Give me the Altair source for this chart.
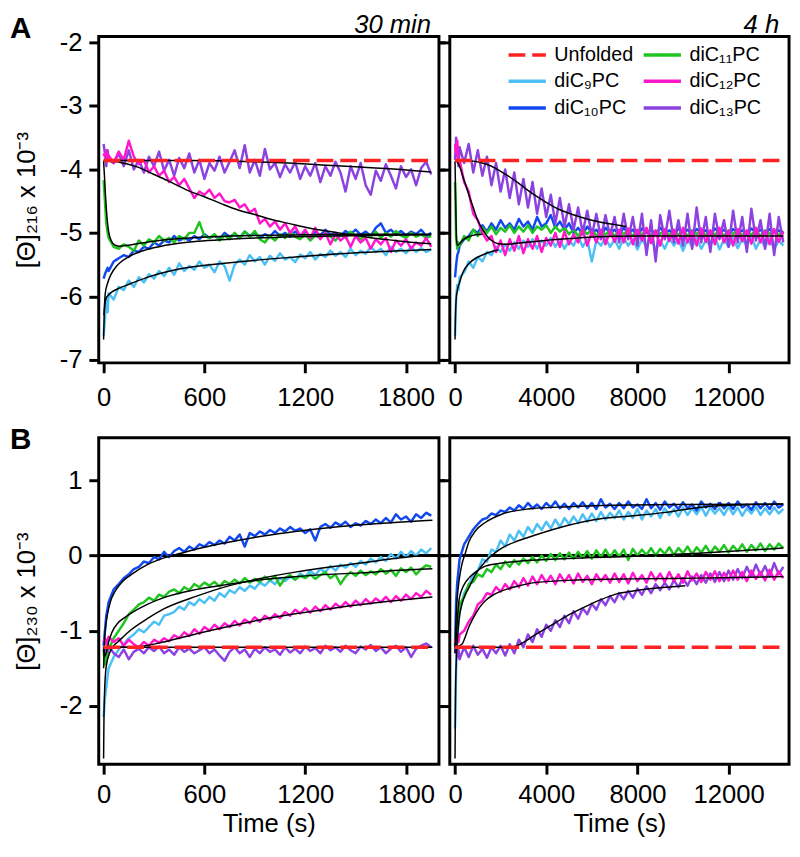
import altair as alt
import pandas as pd

FONT = "Liberation Sans"

# ---------------- sample times ----------------
T_L = [0, 8, 16, 24] + list(range(30, 1951, 30))          # 30 min runs (s)
T_R = [0, 50, 100, 150] + list(range(200, 14401, 200))    # 4 h runs (s)

# ---------------- Panel A, 30 min  ([Θ]216 x 10^-3) ----------------
a_l_c9 = [-6.62, -6.35, -6.02, -6.25,
          -5.95, -6.05, -5.85, -5.9, -5.75, -5.85, -5.7, -5.78, -5.65, -5.72,
          -5.6, -5.68, -5.55, -5.66, -5.48, -5.6, -5.52, -5.58, -5.45, -5.55,
          -5.5, -5.62, -5.45, -5.52, -5.75, -5.5, -5.42, -5.5, -5.35, -5.45,
          -5.38, -5.5, -5.36, -5.44, -5.32, -5.42, -5.38, -5.46, -5.34, -5.4,
          -5.3, -5.42, -5.33, -5.38, -5.28, -5.36, -5.3, -5.38, -5.25, -5.35,
          -5.28, -5.33, -5.22, -5.3, -5.25, -5.35, -5.22, -5.3, -5.25, -5.32,
          -5.22, -5.3, -5.24, -5.3, -5.26]
a_l_c10 = [-5.72, -5.65, -5.6, -5.55,
           -5.6, -5.45, -5.4, -5.35, -5.38, -5.28, -5.3, -5.22, -5.25, -5.15,
           -5.2, -5.12, -5.15, -5.05, -5.12, -5.08, -5.12, -5.05, -5.1, -5.02,
           -5.08, -5.04, -5.1, -5.0, -5.06, -5.02, -5.08, -4.98, -5.05, -5.0,
           -5.08, -5.02, -5.06, -4.97, -5.05, -5.0, -5.06, -4.98, -5.04, -5.0,
           -5.07, -4.98, -5.04, -4.95, -5.03, -5.0, -5.05, -4.97, -5.02, -4.95,
           -5.03, -4.98, -5.05, -4.92, -4.85, -5.0, -4.95, -5.03, -4.97, -5.04,
           -4.98, -5.02, -4.95, -5.05, -5.0]
a_l_c11 = [-4.17, -4.5, -4.85, -5.0,
           -5.08, -5.22, -5.25, -5.18, -5.22, -5.28, -5.12, -5.2, -5.1, -5.15,
           -5.05, -5.12, -5.08, -5.15, -5.05, -5.1, -5.0, -5.0, -4.83, -5.05,
           -5.08, -5.02, -5.12, -5.04, -5.1, -5.0, -5.08, -4.98, -5.06, -4.97,
           -5.1, -5.15, -5.05, -5.12, -5.02, -5.08, -4.98, -5.06, -5.1, -5.02,
           -5.12, -5.04, -5.08, -5.0, -5.06, -5.12, -5.02, -5.08, -4.98, -5.05,
           -5.1, -5.02, -5.06, -4.98, -5.08, -5.0, -5.06, -4.97, -5.04, -5.08,
           -5.0, -5.06, -5.02, -5.08, -5.05]
a_l_c12 = [-3.75, -3.8, -3.7, -3.85,
           -3.78, -3.9, -3.72, -3.85, -3.55, -3.8, -3.92, -3.85, -4.05, -3.95,
           -4.1, -4.02, -4.2, -4.12, -4.25, -4.15, -4.3, -4.45, -4.35, -4.4,
           -4.32, -4.45, -4.38, -4.5, -4.52, -4.48, -4.6, -4.55, -4.68, -4.62,
           -4.85, -4.78, -4.9, -4.82, -4.95, -4.85, -5.0, -4.9, -5.05, -4.95,
           -5.08, -4.92, -5.1, -5.0, -5.18, -5.02, -5.12, -5.05, -5.22, -5.05,
           -5.15, -5.08, -5.25, -5.1, -5.18, -5.08, -5.3, -5.12, -5.2, -5.1,
           -5.25, -5.15, -5.2, -5.08, -5.22]
a_l_c13 = [-3.6, -3.75, -3.95, -3.7,
           -3.85, -3.9, -3.75, -3.95, -3.7, -4.0, -3.85, -4.05, -3.8, -3.95,
           -3.72, -4.02, -3.85, -4.1, -3.82, -3.98, -3.75, -4.05, -3.85, -4.15,
           -3.9, -4.02, -3.8, -4.05, -3.88, -3.7, -3.98, -3.62, -4.05, -3.85,
           -4.1, -3.68, -4.0, -3.9, -4.12, -3.92, -4.05, -3.88, -4.15, -3.95,
           -4.1, -3.9, -4.2, -3.95, -4.1, -3.88, -4.05, -4.35, -3.95, -4.15,
           -3.9, -4.25, -4.4, -4.02, -4.18, -3.92, -4.1, -4.3, -3.95, -4.12,
           -4.0, -4.25, -3.98, -3.88, -4.08]

# ---------------- Panel A, 4 h ----------------
a_r_c9 = [-6.62, -6.0, -5.82, -5.9,
          -5.7, -5.62, -5.45, -5.55, -5.38, -5.45, -5.3, -5.35, -5.22, -5.3,
          -5.18, -5.28, -5.15, -5.25, -5.12, -5.22, -5.1, -5.25, -5.12, -5.2,
          -5.08, -5.22, -5.1, -5.25, -5.12, -5.2, -5.05, -5.22, -5.1, -5.45,
          -5.12, -5.2, -5.08, -5.22, -5.1, -5.25, -5.08, -5.2, -5.1, -5.26,
          -5.1, -5.22, -5.05, -5.28, -5.12, -5.25, -5.08, -5.2, -5.1, -5.28,
          -5.1, -5.22, -5.08, -5.25, -5.12, -5.2, -5.06, -5.26, -5.1, -5.22,
          -5.08, -5.24, -5.1, -5.2, -5.05, -5.25, -5.1, -5.22, -5.08, -5.26,
          -5.12, -5.2]
a_r_c10 = [-5.7, -5.5, -5.35, -5.3,
           -5.2, -5.1, -5.05, -4.95, -5.0, -4.88, -4.98, -4.85, -4.95, -4.8,
           -4.92, -4.85, -4.95, -4.78, -4.9, -4.82, -4.95, -4.75, -4.9, -4.85,
           -4.72, -4.92, -4.82, -4.95, -4.85, -5.0, -4.92, -5.02, -4.9, -5.0,
           -4.95, -5.05, -4.92, -5.0, -4.95, -5.03, -4.92, -5.0, -4.95, -5.05,
           -4.93, -5.0, -4.95, -5.02, -4.92, -5.0, -4.96, -5.04, -4.93, -5.0,
           -4.95, -5.03, -4.94, -5.0, -4.96, -5.04, -4.93, -5.0, -4.95, -5.02,
           -4.94, -5.0, -4.96, -5.03, -4.93, -5.0, -4.95, -5.02, -4.94, -5.0,
           -4.96, -5.02]
a_r_c11 = [-4.2, -5.1, -5.25, -5.15,
           -5.2, -5.05, -5.12, -4.95, -5.05, -4.92, -5.0, -4.9, -5.02, -4.92,
           -4.98, -4.88, -5.0, -4.9, -4.98, -4.88, -5.0, -4.9, -4.95, -4.88,
           -5.0, -4.9, -4.98, -4.92, -5.02, -4.95, -5.05, -4.95, -5.02, -4.94,
           -5.05, -4.96, -5.03, -4.95, -5.05, -4.97, -5.02, -4.95, -5.05, -4.96,
           -5.03, -4.95, -5.05, -4.97, -5.02, -4.95, -5.04, -4.97, -5.03, -4.95,
           -5.05, -4.96, -5.02, -4.95, -5.04, -4.97, -5.03, -4.95, -5.05, -4.96,
           -5.02, -4.95, -5.04, -4.97, -5.03, -4.95, -5.05, -4.96, -5.02, -4.95,
           -5.04, -4.97]
a_r_c12 = [-3.6, -3.75, -3.55, -3.9,
           -3.85, -4.2, -4.35, -4.7, -4.8, -5.0, -5.12, -5.05, -5.3, -5.12,
           -5.35, -5.1, -5.28, -5.05, -5.32, -5.1, -5.25, -5.05, -5.3, -5.08,
           -5.2, -5.0, -5.22, -4.98, -5.18, -5.02, -5.15, -4.95, -5.2, -4.98,
           -5.15, -4.95, -5.18, -4.97, -5.14, -4.95, -5.15, -4.93, -5.18, -4.95,
           -5.12, -4.92, -5.16, -4.96, -5.2, -4.94, -5.13, -4.95, -5.17, -4.92,
           -5.15, -4.97, -5.2, -4.93, -5.14, -4.96, -5.18, -4.92, -5.15, -4.97,
           -5.2, -4.94, -5.13, -4.96, -5.17, -4.92, -5.15, -4.97, -5.18, -4.94,
           -5.14, -4.98]
a_r_c13 = [-3.85, -3.5, -3.7, -3.95,
           -3.65, -3.9, -3.6, -4.05, -3.7, -4.1, -3.8, -4.25, -3.9, -4.35,
           -4.0, -4.45, -4.05, -4.55, -4.15, -4.6, -4.2, -4.7, -4.3, -4.75,
           -4.4, -4.85, -4.45, -4.9, -4.55, -4.95, -4.6, -5.0, -4.65, -5.05,
           -4.7, -5.1, -4.72, -5.05, -4.75, -5.15, -4.7, -5.1, -4.75, -5.2,
           -4.7, -5.35, -4.8, -5.45, -4.72, -5.1, -4.65, -5.15, -4.8, -5.2,
           -4.7, -5.25, -4.6, -5.15, -4.75, -5.3, -4.7, -5.1, -4.8, -5.22,
           -4.65, -5.15, -4.75, -5.3, -4.62, -5.12, -4.8, -5.25, -4.7, -5.35,
           -4.75, -5.15]

# ---------------- Panel B, 30 min  ([Θ]230 x 10^-3) ----------------
b_l_c9 = [-2.15, -1.9, -1.75, -1.6,
          -1.5, -1.35, -1.25, -1.18, -1.1, -1.05, -0.98, -1.02, -0.95, -0.88,
          -0.92, -0.8, -0.78, -0.75, -0.68, -0.72, -0.62, -0.66, -0.58, -0.63,
          -0.55, -0.6, -0.5, -0.55, -0.46, -0.5, -0.42, -0.47, -0.4, -0.44,
          -0.36, -0.4, -0.33, -0.38, -0.3, -0.34, -0.28, -0.32, -0.24, -0.28,
          -0.2, -0.26, -0.18, -0.22, -0.14, -0.2, -0.12, -0.16, -0.1, -0.15,
          -0.07, -0.12, -0.04, -0.09, -0.02, -0.07, 0.02, -0.04, 0.05, -0.02,
          0.06, 0.0, 0.08, 0.03, 0.1]
b_l_c10 = [-1.2, -1.0, -0.8, -0.7,
           -0.62, -0.45, -0.38, -0.3, -0.25, -0.18, -0.15, -0.08, -0.1, -0.02,
           -0.05, 0.05, -0.02, 0.06, 0.1, 0.05, 0.12, 0.08, 0.15, 0.12,
           0.18, 0.14, 0.2, 0.16, 0.25, 0.2, 0.28, 0.12, 0.3, 0.26,
           0.32, 0.28, 0.34, 0.3, 0.36, 0.32, 0.38, 0.33, 0.36, 0.3,
           0.35, 0.2, 0.38, 0.42, 0.37, 0.44, 0.4, 0.45, 0.38, 0.43,
           0.4, 0.46, 0.42, 0.48, 0.43, 0.5, 0.44, 0.55, 0.48, 0.52,
           0.45, 0.55, 0.5, 0.57, 0.53]
b_l_c11 = [-1.25, -1.45, -1.4, -1.3,
           -1.25, -1.1, -1.0, -0.9, -0.78, -0.72, -0.65, -0.62, -0.56, -0.6,
           -0.52, -0.55, -0.48, -0.45, -0.5, -0.42, -0.46, -0.38, -0.42, -0.36,
           -0.4, -0.35, -0.41, -0.34, -0.38, -0.32, -0.37, -0.3, -0.36, -0.31,
           -0.35, -0.28, -0.33, -0.27, -0.4, -0.3, -0.26, -0.32, -0.27, -0.3,
           -0.25, -0.31, -0.26, -0.22, -0.3, -0.25, -0.38, -0.28, -0.22, -0.27,
           -0.2, -0.26, -0.21, -0.25, -0.18, -0.24, -0.19, -0.27, -0.17, -0.22,
           -0.16, -0.25, -0.18, -0.13, -0.15]
b_l_c12 = [-1.15, -1.1, -1.18, -1.12,
           -1.08, -1.15, -1.1, -1.2, -1.12, -1.18, -1.22, -1.15, -1.2, -1.12,
           -1.16, -1.1, -1.14, -1.06, -1.1, -1.02, -1.07, -0.98, -1.04, -0.95,
           -1.0, -0.92, -0.98, -0.9, -0.95, -0.87, -0.93, -0.85, -0.9, -0.82,
           -0.88, -0.8, -0.85, -0.78, -0.83, -0.75, -0.8, -0.72, -0.77, -0.7,
           -0.76, -0.68, -0.74, -0.66, -0.72, -0.64, -0.69, -0.62, -0.68, -0.6,
           -0.66, -0.58, -0.64, -0.57, -0.62, -0.55, -0.62, -0.54, -0.6, -0.52,
           -0.58, -0.5, -0.55, -0.47, -0.52]
b_l_c13 = [-1.25, -1.3, -1.22, -1.28,
           -1.2, -1.3, -1.35, -1.25, -1.38, -1.28, -1.24, -1.3, -1.22, -1.27,
           -1.21, -1.3, -1.25, -1.32, -1.22, -1.28, -1.24, -1.3, -1.26, -1.22,
           -1.3, -1.25, -1.33, -1.4, -1.28, -1.22, -1.3, -1.25, -1.35, -1.24,
           -1.3, -1.22, -1.28, -1.25, -1.32, -1.22, -1.29, -1.24, -1.3, -1.21,
           -1.27, -1.23, -1.3, -1.2, -1.26, -1.22, -1.28, -1.2, -1.26, -1.3,
           -1.21, -1.25, -1.19, -1.27, -1.22, -1.3, -1.24, -1.2, -1.28, -1.22,
           -1.35, -1.24, -1.2, -1.17, -1.22]

# ---------------- Panel B, 4 h ----------------
b_r_c9 = [-2.3, -1.5, -1.1, -0.9,
          -0.75, -0.5, -0.4, -0.25, -0.2, -0.05, -0.08, 0.08, 0.05, 0.2,
          0.12, 0.28, 0.2, 0.33, 0.25, 0.38, 0.3, 0.42, 0.34, 0.45,
          0.36, 0.48, 0.38, 0.5, 0.42, 0.52, 0.43, 0.55, 0.45, 0.56,
          0.46, 0.58, 0.48, 0.57, 0.5, 0.6, 0.48, 0.58, 0.5, 0.62,
          0.48, 0.6, 0.52, 0.62, 0.5, 0.63, 0.54, 0.62, 0.52, 0.64,
          0.54, 0.63, 0.55, 0.65, 0.53, 0.64, 0.56, 0.63, 0.54, 0.65,
          0.55, 0.64, 0.53, 0.63, 0.56, 0.65, 0.54, 0.63, 0.55, 0.64,
          0.56, 0.62]
b_r_c10 = [-1.2, -0.6, -0.35, -0.2,
           -0.05, 0.15, 0.25, 0.35, 0.42, 0.48, 0.5, 0.56, 0.54, 0.6,
           0.58, 0.64, 0.6, 0.67, 0.62, 0.7, 0.63, 0.68, 0.62, 0.7,
           0.64, 0.72, 0.63, 0.69, 0.62, 0.7, 0.64, 0.71, 0.63, 0.7,
           0.62, 0.75, 0.64, 0.69, 0.62, 0.7, 0.63, 0.72, 0.64, 0.68,
           0.62, 0.75, 0.63, 0.7, 0.61, 0.72, 0.64, 0.69, 0.62, 0.71,
           0.63, 0.68, 0.6, 0.72, 0.64, 0.69, 0.62, 0.71, 0.63, 0.7,
           0.62, 0.72, 0.64, 0.68, 0.61, 0.71, 0.63, 0.7, 0.62, 0.72,
           0.64, 0.68]
b_r_c11 = [-1.2, -1.0, -0.85, -0.75,
           -0.65, -0.55, -0.38, -0.35, -0.25, -0.28, -0.18, -0.22, -0.12, -0.18,
           -0.08, -0.15, -0.06, -0.12, -0.04, -0.1, -0.02, -0.09, 0.0, -0.07,
           0.02, -0.06, 0.03, -0.05, 0.04, -0.04, 0.05, -0.03, 0.06, -0.04,
           0.07, -0.02, 0.08, -0.02, 0.07, -0.01, 0.08, -0.06, 0.09, 0.0,
           0.08, 0.01, 0.1, 0.0, 0.09, 0.02, 0.11, 0.01, 0.1, 0.03,
           0.12, 0.02, 0.11, 0.04, 0.13, 0.03, 0.12, 0.05, 0.14, 0.04,
           0.13, 0.06, 0.15, 0.05, 0.14, 0.07, 0.16, 0.06, 0.15, 0.08,
           0.16, 0.1]
b_r_c12 = [-1.1, -1.2, -1.08, -1.15,
           -1.05, -1.0, -0.88, -0.8, -0.65, -0.6, -0.5, -0.52, -0.42, -0.48,
           -0.38, -0.45, -0.34, -0.42, -0.3, -0.4, -0.28, -0.38, -0.26, -0.36,
           -0.27, -0.38, -0.25, -0.35, -0.26, -0.37, -0.24, -0.35, -0.27, -0.38,
           -0.25, -0.34, -0.26, -0.36, -0.24, -0.35, -0.25, -0.37, -0.23, -0.34,
           -0.26, -0.36, -0.22, -0.33, -0.24, -0.35, -0.22, -0.34, -0.25, -0.36,
           -0.21, -0.33, -0.24, -0.35, -0.22, -0.32, -0.21, -0.34, -0.23, -0.33,
           -0.2, -0.32, -0.22, -0.34, -0.2, -0.31, -0.22, -0.33, -0.19, -0.32,
           -0.21, -0.3]
b_r_c13 = [-1.3, -1.2, -1.35, -1.25,
           -1.38, -1.22, -1.35, -1.2, -1.32, -1.24, -1.36, -1.22, -1.3, -1.2,
           -1.33, -1.18, -1.3, -1.12, -1.22, -1.05, -1.15, -0.98, -1.08, -0.92,
           -1.0, -0.86, -0.95, -0.8, -0.9, -0.74, -0.84, -0.7, -0.78, -0.64,
           -0.72, -0.58, -0.66, -0.54, -0.62, -0.5, -0.58, -0.47, -0.56, -0.44,
           -0.52, -0.41, -0.5, -0.38, -0.46, -0.36, -0.45, -0.33, -0.42, -0.3,
           -0.4, -0.28, -0.38, -0.26, -0.36, -0.24, -0.35, -0.22, -0.34, -0.2,
           -0.32, -0.18, -0.3, -0.15, -0.28, -0.12, -0.26, -0.14, -0.28, -0.1,
           -0.25, -0.15]

# ---------------- fitted curves (black) ----------------
fa_l_c9_t = [0, 3, 8, 15, 25, 50, 85, 160, 260, 450, 750, 1140, 1530, 1950]
fa_l_c9_v = [-6.68, -6.35, -6.12, -6.03, -5.99, -5.93, -5.88, -5.8, -5.7, -5.57, -5.47, -5.38, -5.31, -5.26]
fa_l_c10_t = [2, 10, 25, 45, 85, 160, 260, 360, 560, 750, 1140, 1530, 1950]
fa_l_c10_v = [-6.3, -5.95, -5.78, -5.65, -5.5, -5.36, -5.26, -5.2, -5.13, -5.1, -5.06, -5.04, -5.03]
fa_l_c11_t = [0, 5, 12, 20, 30, 45, 65, 90, 130, 200, 300, 450, 650, 900, 1200, 1500, 1950]
fa_l_c11_v = [-3.87, -4.1, -4.45, -4.75, -4.98, -5.12, -5.19, -5.21, -5.2, -5.17, -5.13, -5.09, -5.06, -5.04, -5.03, -5.02, -5.02]
fa_l_c12_t = [0, 100, 200, 300, 400, 500, 600, 700, 800, 900, 1000, 1100, 1200, 1300, 1400, 1500, 1600, 1700, 1800, 1950]
fa_l_c12_v = [-3.87, -3.89, -3.96, -4.08, -4.2, -4.33, -4.43, -4.54, -4.64, -4.71, -4.79, -4.85, -4.91, -4.96, -5.0, -5.04, -5.08, -5.11, -5.14, -5.17]
fa_l_c13_t = [0, 500, 900, 1100, 1300, 1500, 1700, 1950]
fa_l_c13_v = [-3.86, -3.86, -3.88, -3.9, -3.93, -3.96, -3.99, -4.04]

fa_r_c9_t = [0, 20, 50, 90, 200, 350, 650, 950, 1250, 1550, 1900]
fa_r_c9_v = [-6.68, -6.3, -6.05, -5.93, -5.78, -5.62, -5.47, -5.39, -5.34, -5.3, -5.27]
fa_r_c11_t = [0, 30, 60, 100, 200, 350, 600, 900, 1200]
fa_r_c11_v = [-3.87, -4.5, -5.05, -5.2, -5.17, -5.11, -5.06, -5.03, -5.02]
fa_r_c12_t = [0, 60, 200, 350, 500, 650, 800, 950, 1100, 1250, 1400, 1600, 1900, 2300, 2800, 3400, 4200, 5000, 6200, 8000, 10000, 12000, 14400]
fa_r_c12_v = [-3.86, -3.87, -3.95, -4.12, -4.28, -4.45, -4.6, -4.76, -4.88, -4.97, -5.05, -5.12, -5.17, -5.18, -5.16, -5.14, -5.11, -5.09, -5.06, -5.05, -5.05, -5.05, -5.05]
fa_r_c13_t = [0, 400, 800, 1200, 1600, 2000, 2400, 2800, 3200, 3600, 4000, 4500, 5000, 5500, 6000, 6500, 7000, 7500]
fa_r_c13_v = [-3.86, -3.86, -3.87, -3.9, -3.95, -4.03, -4.12, -4.22, -4.33, -4.43, -4.52, -4.62, -4.69, -4.75, -4.8, -4.84, -4.87, -4.9]

fb_l_c9_t = [0, 2, 6, 12, 20, 35, 60, 84, 162, 260, 358, 554, 749, 945, 1141, 1336, 1532, 1728, 1957]
fb_l_c9_v = [-2.7, -2.2, -1.8, -1.55, -1.42, -1.3, -1.2, -1.15, -0.99, -0.84, -0.71, -0.54, -0.4, -0.3, -0.22, -0.155, -0.1, -0.04, 0.01]
fb_l_c10_t = [0, 5, 12, 20, 40, 70, 110, 160, 260, 360, 460, 560, 750, 950, 1140, 1340, 1530, 1730, 1957]
fb_l_c10_v = [-1.5, -1.15, -0.95, -0.82, -0.62, -0.47, -0.35, -0.26, -0.12, -0.03, 0.03, 0.09, 0.18, 0.26, 0.32, 0.37, 0.41, 0.44, 0.47]
fb_l_c11_t = [0, 5, 15, 30, 50, 84, 123, 162, 260, 358, 554, 749, 945, 1141, 1336, 1532, 1728, 1957]
fb_l_c11_v = [-1.22, -1.35, -1.3, -1.15, -1.02, -0.9, -0.83, -0.77, -0.65, -0.56, -0.45, -0.38, -0.32, -0.28, -0.25, -0.23, -0.2, -0.175]
fb_l_c12_t = [0, 150, 250, 358, 554, 749, 945, 1141, 1336, 1532, 1728, 1957]
fb_l_c12_v = [-1.22, -1.22, -1.2, -1.15, -1.04, -0.94, -0.85, -0.775, -0.71, -0.65, -0.6, -0.55]
fb_l_c13_t = [0, 1957]
fb_l_c13_v = [-1.22, -1.22]

fb_r_c9_t = [0, 20, 60, 120, 173, 300, 450, 605, 900, 1328, 2050, 2800, 3490, 4930, 6373, 7813, 9253, 10693, 12000, 14400]
fb_r_c9_v = [-2.7, -1.9, -1.35, -1.05, -0.86, -0.65, -0.52, -0.43, -0.25, -0.08, 0.1, 0.2, 0.27, 0.4, 0.49, 0.53, 0.575, 0.64, 0.67, 0.685]
fb_r_c10_t = [0, 50, 100, 173, 300, 450, 605, 900, 1328, 2050, 3200, 4930, 7000, 10000, 14400]
fb_r_c10_v = [-1.3, -0.8, -0.55, -0.34, -0.12, 0.03, 0.18, 0.33, 0.44, 0.55, 0.62, 0.65, 0.67, 0.68, 0.685]
fb_r_c11_t = [0, 30, 80, 173, 300, 450, 605, 900, 1328, 2050, 3000, 4930, 7813, 10693, 14400]
fb_r_c11_v = [-1.22, -1.15, -0.95, -0.6, -0.45, -0.36, -0.3, -0.22, -0.14, -0.1, -0.07, -0.04, -0.01, 0.03, 0.1]
fb_r_c12_t = [0, 300, 450, 605, 750, 895, 1100, 1328, 1700, 2050, 2770, 3490, 4930, 7813, 10693, 14400]
fb_r_c12_v = [-1.22, -1.18, -1.08, -0.95, -0.86, -0.78, -0.68, -0.6, -0.52, -0.47, -0.405, -0.36, -0.33, -0.31, -0.3, -0.28]
fb_r_c13_t = [0, 2480, 2914, 3490, 4210, 4930, 5650, 6373, 7093, 7813, 8535, 9253, 10100]
fb_r_c13_v = [-1.22, -1.22, -1.17, -1.06, -0.93, -0.8, -0.69, -0.59, -0.51, -0.47, -0.44, -0.42, -0.4]

# unfolded reference levels
UNF_A = -3.86
UNF_B = -1.22
UNF_T_L = [0, 1950]
UNF_T_R = [0, 14250]

# axis ticks
X_TICKS_L = [0, 600, 1200, 1800]
X_TICKS_R = [0, 4000, 8000, 12000]
Y_TICKS_A = [-7, -6, -5, -4, -3, -2]
Y_TICKS_B = [-2, -1, 0, 1]

# ---------------- styling ----------------
C9, C10, C11, C12, C13 = "diC₉PC", "diC₁₀PC", "diC₁₁PC", "diC₁₂PC", "diC₁₃PC"
UNF = "Unfolded"
LEG_ORDER = [UNF, C9, C10, C11, C12, C13]
COLORS = {UNF: "#ff2222", C9: "#4cc0f5", C10: "#1249ee", C11: "#1fc41f",
          C12: "#ff17cc", C13: "#8c42e0"}
DASHES = {UNF: [17, 7], C9: [1, 0], C10: [1, 0], C11: [1, 0], C12: [1, 0], C13: [1, 0]}
DRAW_ORDER = [C9, C10, C11, C13, C12]

cscale = alt.Scale(domain=LEG_ORDER, range=[COLORS[k] for k in LEG_ORDER])
dscale = alt.Scale(domain=LEG_ORDER, range=[DASHES[k] for k in LEG_ORDER])

LEGEND = alt.Legend(title=None, orient="none", legendX=63, legendY=3, direction="vertical",
                    columns=2, symbolType="M-1.4,0L1.4,0",
                    symbolSize=729, symbolStrokeWidth=3.5, labelFontSize=20,
                    labelFont=FONT, labelColor="black", labelOffset=12,
                    columnPadding=2, rowPadding=1, padding=0, labelLimit=300)

W_L, W_R, H = 345, 344, 331
XDOM_L = [-29, 1996]
XDOM_R = [-229, 14652]
YDOM_A = [-7.047, -1.907]
YDOM_B = [-2.777, 1.567]

TICK = dict(tickSize=10, tickWidth=3, tickColor="black", domain=False, grid=False)
LAB = dict(labelFontSize=26, labelFont=FONT, labelColor="black",
           labelExpr="'' + datum.value", labelFlush=False, labelOverlap=False)
TIT = dict(titleFontSize=26, titleFont=FONT, titleColor="black", titleFontWeight="normal")


def panel(times, series, fits, unf_t, unf_v, xdom, ydom, xticks, yticks,
          is_left, is_bottom, ytitle, show_legend, texts, zero_line, width):
    xs = alt.Scale(domain=xdom, nice=False, zero=False)
    ys = alt.Scale(domain=ydom, nice=False, zero=False)
    leg = LEGEND if show_legend else None

    def X():
        return alt.X("t:Q", scale=xs, axis=None)

    def Y():
        return alt.Y("v:Q", scale=ys, axis=None)

    layers = []
    if zero_line:
        layers.append(alt.Chart(pd.DataFrame({"v": [0.0]}))
                      .mark_rule(color="black", strokeWidth=3)
                      .encode(y=Y()))
    for name in DRAW_ORDER:
        df = pd.DataFrame({"t": times, "v": series[name], "s": name})
        layers.append(alt.Chart(df).mark_line(strokeWidth=2.5, strokeJoin="round")
                      .encode(x=X(), y=Y(),
                              color=alt.Color("s:N", scale=cscale, legend=leg),
                              strokeDash=alt.StrokeDash("s:N", scale=dscale, legend=leg)))
    fit_df = pd.concat([pd.DataFrame({"t": ft, "v": fv, "f": k})
                        for k, (ft, fv) in fits.items()], ignore_index=True)
    layers.append(alt.Chart(fit_df).mark_line(color="black", strokeWidth=1.5,
                                              interpolate="monotone")
                  .encode(x=X(), y=Y(), detail="f:N"))
    udf = pd.DataFrame({"t": unf_t, "v": [unf_v] * len(unf_t), "s": UNF})
    layers.append(alt.Chart(udf).mark_line(strokeWidth=3.5)
                  .encode(x=X(), y=Y(),
                          color=alt.Color("s:N", scale=cscale, legend=leg),
                          strokeDash=alt.StrokeDash("s:N", scale=dscale, legend=leg)))

    # axis carriers
    if is_bottom:
        xaxis = alt.Axis(values=xticks, labelPadding=8, title="Time (s)",
                         titlePadding=3, **TICK, **LAB, **TIT)
    else:
        xaxis = alt.Axis(values=xticks, labelPadding=12, title=None, **TICK, **LAB)
    if is_left:
        yaxis = alt.Axis(orient="left", values=yticks, labelPadding=7, title=ytitle,
                         titlePadding=20, **TICK, **LAB, **TIT)
    else:
        yaxis = alt.Axis(orient="left", values=yticks, labels=False, title=None, **TICK)
    layers.append(alt.Chart(udf).mark_line(strokeOpacity=0)
                  .encode(x=alt.X("t:Q", scale=xs, axis=xaxis),
                          y=alt.Y("v:Q", scale=ys, axis=yaxis)))
    if is_left:
        raxis = alt.Axis(orient="right", values=yticks, labels=False, title=None,
                         tickSize=6, tickWidth=3, tickColor="black", domain=False, grid=False)
        layers.append(alt.Chart(udf).mark_line(strokeOpacity=0)
                      .encode(x=X(), y=alt.Y("v:Q", scale=ys, axis=raxis)))

    for (txt, px, py, align, size, weight, style) in texts:
        layers.append(alt.Chart(pd.DataFrame({"txt": [txt]}))
                      .mark_text(align=align, baseline="alphabetic", fontSize=size,
                                 fontWeight=weight, fontStyle=style, font=FONT, color="black")
                      .encode(text="txt:N", x=alt.value(px), y=alt.value(py)))

    return (alt.layer(*layers)
            .resolve_axis(x="independent", y="independent")
            .properties(width=width, height=H))


aL = panel(T_L, {C9: a_l_c9, C10: a_l_c10, C11: a_l_c11, C12: a_l_c12, C13: a_l_c13},
           {"c9": (fa_l_c9_t, fa_l_c9_v), "c10": (fa_l_c10_t, fa_l_c10_v),
            "c11": (fa_l_c11_t, fa_l_c11_v), "c12": (fa_l_c12_t, fa_l_c12_v),
            "c13": (fa_l_c13_t, fa_l_c13_v)},
           UNF_T_L, UNF_A, XDOM_L, YDOM_A, X_TICKS_L, Y_TICKS_A,
           True, False, "[Θ]₂₁₆  x 10⁻³", False,
           [("A", -90, 2, "left", 30, "bold", "normal"),
            ("30 min", 337, -4, "right", 26, "normal", "italic")],
           False, W_L)

aR = panel(T_R, {C9: a_r_c9, C10: a_r_c10, C11: a_r_c11, C12: a_r_c12, C13: a_r_c13},
           {"c9": (fa_r_c9_t, fa_r_c9_v), "c11": (fa_r_c11_t, fa_r_c11_v),
            "c12": (fa_r_c12_t, fa_r_c12_v), "c13": (fa_r_c13_t, fa_r_c13_v)},
           UNF_T_R, UNF_A, XDOM_R, YDOM_A, X_TICKS_R, Y_TICKS_A,
           False, False, None, True,
           [("4 h", 334, -4, "right", 26, "normal", "italic")],
           False, W_R)

bL = panel(T_L, {C9: b_l_c9, C10: b_l_c10, C11: b_l_c11, C12: b_l_c12, C13: b_l_c13},
           {"c9": (fb_l_c9_t, fb_l_c9_v), "c10": (fb_l_c10_t, fb_l_c10_v),
            "c11": (fb_l_c11_t, fb_l_c11_v), "c12": (fb_l_c12_t, fb_l_c12_v),
            "c13": (fb_l_c13_t, fb_l_c13_v)},
           UNF_T_L, UNF_B, XDOM_L, YDOM_B, X_TICKS_L, Y_TICKS_B,
           True, True, "[Θ]₂₃₀  x 10⁻³", False,
           [("B", -90, 11, "left", 30, "bold", "normal")],
           True, W_L)

bR = panel(T_R, {C9: b_r_c9, C10: b_r_c10, C11: b_r_c11, C12: b_r_c12, C13: b_r_c13},
           {"c9": (fb_r_c9_t, fb_r_c9_v), "c10": (fb_r_c10_t, fb_r_c10_v),
            "c11": (fb_r_c11_t, fb_r_c11_v), "c12": (fb_r_c12_t, fb_r_c12_v),
            "c13": (fb_r_c13_t, fb_r_c13_v)},
           UNF_T_R, UNF_B, XDOM_R, YDOM_B, X_TICKS_R, Y_TICKS_B,
           False, True, None, False, [],
           True, W_R)

chart = (alt.concat(aL, aR, bL, bR, columns=2,
                    spacing={"row": 76, "column": 11}, bounds="flush")
         .resolve_scale(color="independent", strokeDash="independent")
         .properties(padding={"top": -4, "left": 0, "right": 0, "bottom": 0})
         .configure_view(stroke="black", strokeWidth=3))

chart.save("out.html", embed_options={"renderer": "svg", "actions": False})
